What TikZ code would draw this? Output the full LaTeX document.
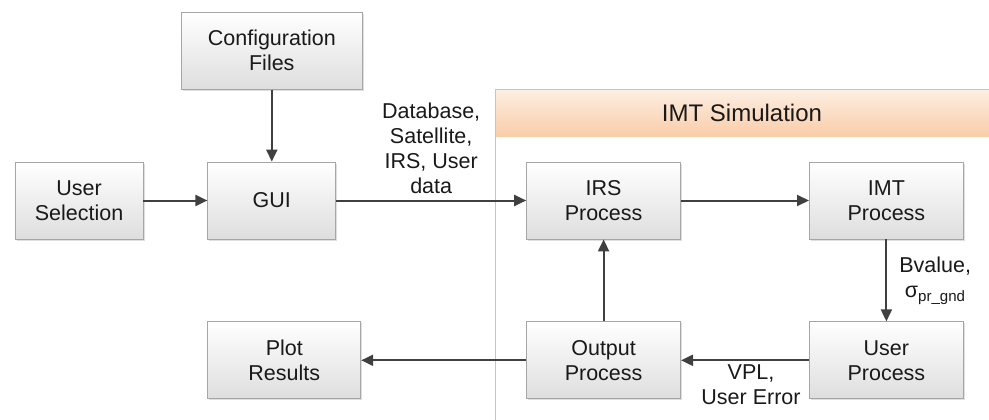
\documentclass[tikz,border=0pt]{standalone}
\usepackage{fontspec}
\setmainfont{Liberation Sans}
\usetikzlibrary{positioning,arrows.meta,shadows}

\definecolor{linegray}{HTML}{404040}
\definecolor{boxborder}{HTML}{A6A6A6}
\definecolor{simborder}{HTML}{F4B98A}
\definecolor{simtop}{HTML}{FDEEE2}
\definecolor{simbottom}{HTML}{F9CDA8}

\tikzset{
  block/.style={draw=boxborder, line width=0.8pt, top color=white, bottom color=black!13,
    minimum height=77pt, align=center, text=black!90, font=\fontsize{21.5}{25}\selectfont,
    drop shadow={shadow xshift=1.5pt, shadow yshift=-1.5pt, fill=black!25}},
  flow/.style={draw=linegray, line width=2pt, -{Triangle[length=12pt,width=11pt]}},
  tag/.style={align=center, text=black!90, font=\fontsize{21.5}{25}\selectfont}
}

\begin{document}
\begin{tikzpicture}[x=1pt, y=1pt]
    \useasboundingbox (0,0) rectangle (989,-420);

    % simulation frame with its header band
    \fill [top color=simtop, bottom color=simbottom] (495,-90) rectangle (1000,-136);
    \draw [simborder, line width=1pt] (495,-430) -- (495,-90) -- (1000,-90);
    \node(simtitle) [tag, font=\fontsize{24}{28}\selectfont] at (742,-113) {IMT Simulation};

    \node(usel) [block, minimum width=128pt] at (79,-200.5)   {User\\Selection};
    \node(gui)  [block, minimum width=128pt, right=64pt of usel] {GUI};
    \node(cfg)  [block, minimum width=181pt, above=72pt of gui]  {Configuration\\Files};
    \node(irs)  [block, minimum width=154pt, right=190pt of gui] {IRS\\Process};
    \node(imt)  [block, minimum width=154pt, right=128pt of irs] {IMT\\Process};
    \node(upr)  [block, minimum width=154pt, below=82pt of imt]  {User\\Process};
    \node(out)  [block, minimum width=154pt, below=82pt of irs]  {Output\\Process};
    \node(plot) [block, minimum width=153pt, left=165pt of out]  {Plot\\Results};

    \draw [flow] (cfg) to (gui);
    \draw [flow] (usel) to (gui);
    \draw [flow] (gui) to node [tag, above, inner sep=6pt] {Database,\\Satellite,\\IRS, User\\data} (irs);
    \draw [flow] (irs) to (imt);
    \draw [flow] (imt) to node [tag, right, inner sep=12pt] {Bvalue,\\σ\textsubscript{pr\_gnd}} (upr);
    \draw [flow] (upr) to node [tag, below, inner sep=3pt, xshift=6pt] {VPL,\\User Error} (out);
    \draw [flow] (out) to (irs);
    \draw [flow] (out) to (plot);

\end{tikzpicture}
\end{document}
